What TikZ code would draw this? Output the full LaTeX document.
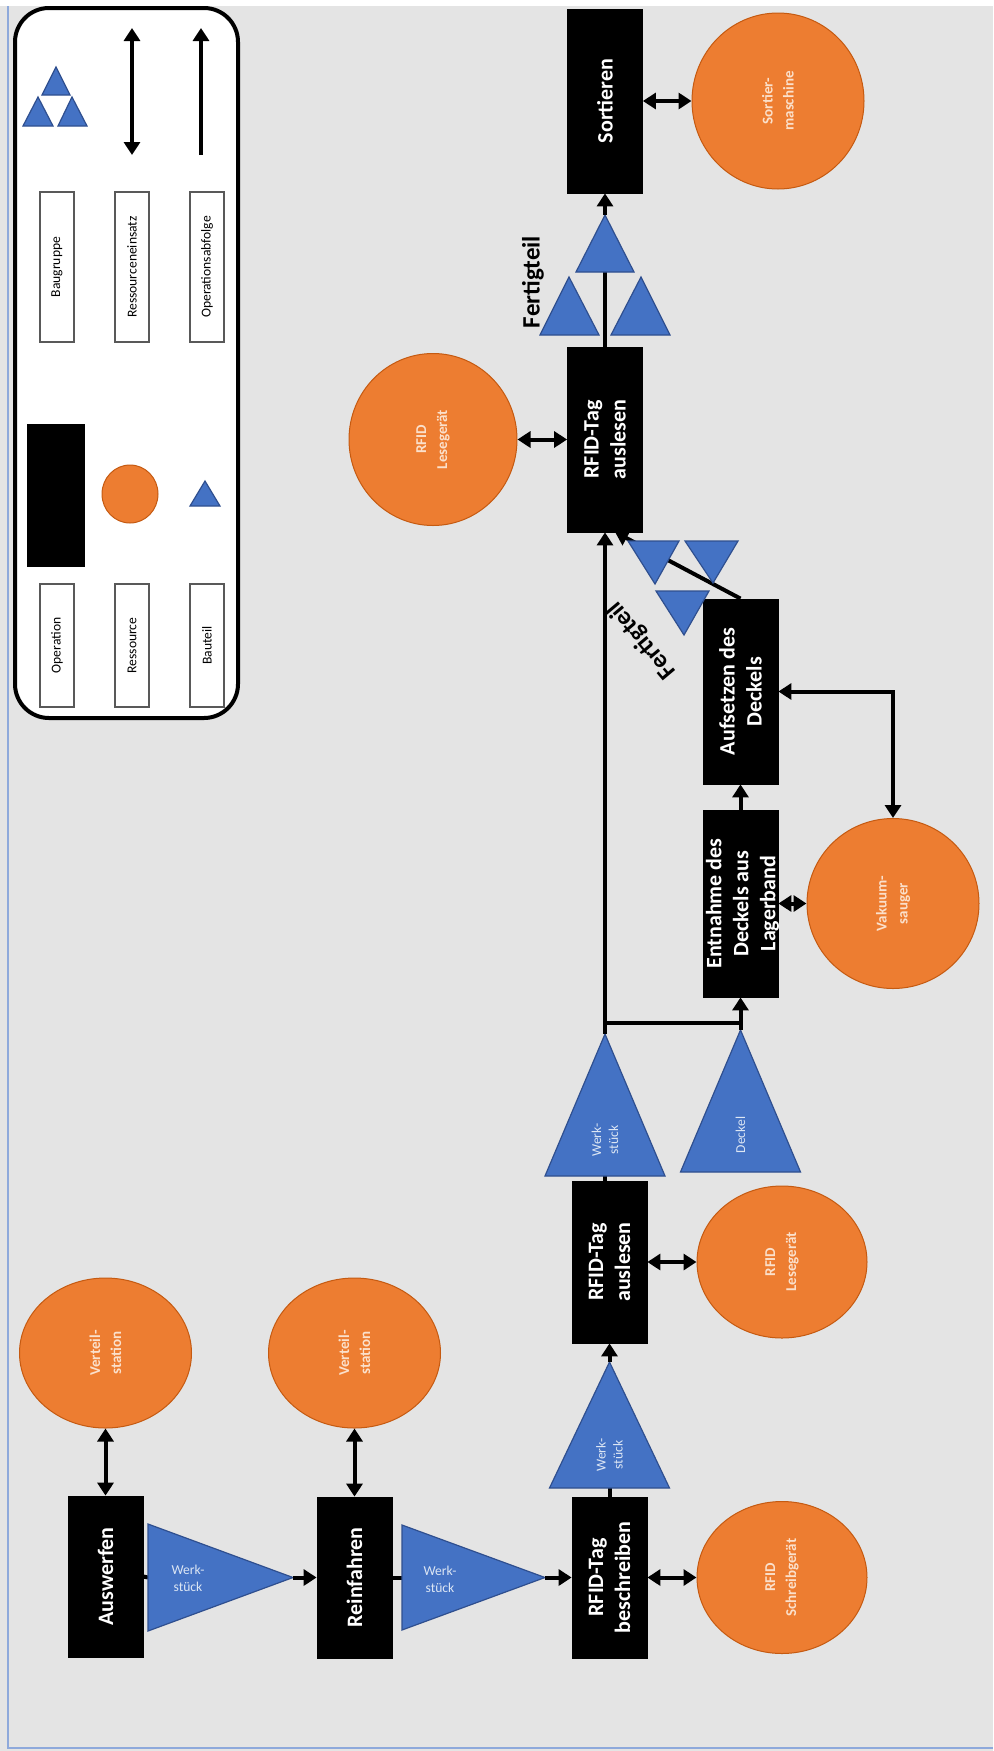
\documentclass[tikz,border=0pt]{standalone}
\usepackage{fontspec}
\setmainfont{Carlito}
\usetikzlibrary{arrows.meta,shapes.geometric}
\definecolor{bg}{HTML}{E4E4E4}
\definecolor{resfill}{HTML}{ED7D31}
\definecolor{resline}{HTML}{C55A11}
\definecolor{partfill}{HTML}{4472C4}
\definecolor{partline}{HTML}{2F4F8F}
\definecolor{restxt}{HTML}{FBE0CB}
\definecolor{parttxt}{HTML}{DCE6F4}
\definecolor{framecol}{HTML}{8EA9DB}

\begin{document}
\begin{tikzpicture}[x=0.5pt,y=-0.5pt,
  op/.style={draw=black, fill=black, minimum width=37.5pt, inner sep=0},
  optext/.style={rotate=90, text=white, font=\bfseries\fontsize{11}{13.5}\selectfont, align=center},
  res/.style={ellipse, draw=resline, line width=0.5pt, fill=resfill, inner sep=0},
  restext/.style={rotate=90, text=restxt, font=\bfseries\fontsize{7.5}{10.5}\selectfont, align=center},
  part/.style={draw=partline, line width=0.6pt, fill=partfill},
  parttext/.style={text=parttxt, font=\fontsize{6.8}{8.5}\selectfont, align=center},
  flowarr/.style={line width=2pt, -{Triangle[length=6.5pt,width=8pt]}},
  stub/.style={line width=2pt},
  resarr/.style={line width=2pt, {Triangle[length=6.5pt,width=8pt]}-{Triangle[length=6.5pt,width=8pt]}},
  legbox/.style={draw=black!65, line width=0.6pt, fill=white, inner sep=0, minimum width=17pt},
  legtext/.style={rotate=90, font=\fontsize{6.8}{8}\selectfont},
  bold label/.style={font=\bfseries\fontsize{12.5}{14}\selectfont, text=black},
]
\useasboundingbox (0,0) rectangle (993,1751);

% canvas
\fill[bg] (0,0) rectangle (993,1751);
\fill[white] (0,0) rectangle (993,6);
\draw[framecol, line width=1.2pt] (8,6) -- (8,1748) -- (993,1748);

% ---------------- legend ----------------
\draw[black, line width=2pt, fill=white, rounded corners=17pt] (15,8) rectangle (238,718);

\node[legbox, minimum height=61.5pt] (lg-op) at (57,645.5) {};
\node[legtext] (lg-op-t) at (lg-op) {Operation};
\node[legbox, minimum height=61.5pt] (lg-res) at (132,645.5) {};
\node[legtext] (lg-res-t) at (lg-res) {Ressource};
\node[legbox, minimum height=61.5pt] (lg-part) at (207,645.5) {};
\node[legtext] (lg-part-t) at (lg-part) {Bauteil};

\node[fill=black, minimum width=29pt, minimum height=71.5pt, inner sep=0] (lg-opsym) at (56,495.5) {};
\node[res, minimum width=28pt, minimum height=29pt] (lg-ressym) at (130,494) {};
\draw[part] (205,481) -- (220,506) -- (190,506) -- cycle;

\node[legbox, minimum height=75pt] (lg-asm) at (57,267) {};
\node[legtext] (lg-asm-t) at (lg-asm) {Baugruppe};
\node[legbox, minimum height=75pt] (lg-use) at (132,267) {};
\node[legtext] (lg-use-t) at (lg-use) {Ressourceneinsatz};
\node[legbox, minimum height=75pt] (lg-seq) at (207,267) {};
\node[legtext] (lg-seq-t) at (lg-seq) {Operationsabfolge};

\draw[part] (56,67) -- (70,95) -- (42,95) -- cycle;
\draw[part] (38,97) -- (53,126) -- (23,126) -- cycle;
\draw[part] (72,97) -- (87,126) -- (58,126) -- cycle;

\coordinate (lg-a1) at (132,155);
\coordinate (lg-a2) at (132,28);
\draw[resarr] (lg-a1) -- (lg-a2);
\coordinate (lg-b1) at (201,155);
\coordinate (lg-b2) at (201,28);
\draw[flowarr] (lg-b1) -- (lg-b2);

% ---------------- operations ----------------
\node[op, minimum height=80.5pt] (aus) at (105.5,1576.5) {};
\node[optext] (aus-t) at (aus) {Auswerfen};
\node[op, minimum height=80.5pt] (rein) at (354.5,1577.5) {};
\node[optext] (rein-t) at (rein) {Reinfahren};
\node[op, minimum height=80.5pt] (besch) at (609.5,1577.5) {};
\node[optext] (besch-t) at (besch) {RFID-Tag\\beschreiben};
\node[op, minimum height=81pt] (les1) at (609.5,1262) {};
\node[optext] (les1-t) at (les1) {RFID-Tag\\auslesen};
\node[op, minimum height=92.5pt] (les2) at (605,439.5) {};
\node[optext] (les2-t) at (les2) {RFID-Tag\\auslesen};
\node[op, minimum height=92pt] (sort) at (605,101) {};
\node[optext] (sort-t) at (sort) {Sortieren};
\node[op, minimum height=93.5pt] (entn) at (740.5,903.5) {};
\node[optext] (entn-t) at ([xshift=1pt]entn.center) {Entnahme des\\Deckels aus\\Lagerband};
\node[op, minimum height=92.5pt] (aufs) at (740.5,691.5) {};
\node[optext] (aufs-t) at (aufs) {Aufsetzen des\\Deckels};

% ---------------- resources ----------------
\node[res, minimum width=86pt, minimum height=75pt] (vs1) at (105.5,1353) {};
\node[restext] (vs1-t) at (vs1) {Verteil-\\station};
\node[res, minimum width=86pt, minimum height=75pt] (vs2) at (354.5,1353) {};
\node[restext] (vs2-t) at (vs2) {Verteil-\\station};
\node[res, minimum width=85pt, minimum height=76pt] (schreib) at (782,1577.5) {};
\node[restext] (schreib-t) at (schreib) {RFID\\Schreibgerät};
\node[res, minimum width=85pt, minimum height=76pt] (lese1) at (782,1262) {};
\node[restext] (lese1-t) at (lese1) {RFID\\Lesegerät};
\node[res, minimum width=84pt, minimum height=86pt] (lese2) at (433,439.5) {};
\node[restext] (lese2-t) at (lese2) {RFID\\Lesegerät};
\node[res, minimum width=86pt, minimum height=85pt] (vak) at (893,903.5) {};
\node[restext] (vak-t) at (vak) {Vakuum-\\sauger};
\node[res, minimum width=86pt, minimum height=88pt] (sortm) at (778,101) {};
\node[restext] (sortm-t) at (sortm) {Sortier-\\maschine};

\draw[resarr] (vs1.south) -- (aus.north);
\draw[resarr] (vs2.south) -- (rein.north);
\draw[resarr] (besch.east) -- (schreib.west);
\draw[resarr] (les1.east) -- (lese1.west);
\draw[resarr] (les2.west) -- (lese2.east);
\draw[resarr] (sort.east) -- (sortm.west);
\draw[resarr] (entn.east) -- (vak.west);
\draw[resarr] (vak.north) |- (aufs.east);

% ---------------- parts and sequence ----------------
% Auswerfen -> Reinfahren
\coordinate (t1base) at (148,1577.5);
\coordinate (t1tip) at (293,1577.5);
\draw[stub] (aus.east) -- (t1base);
\draw[part] (148,1524) -- (t1tip) -- (148,1631) -- cycle;
\node[parttext] (t1-t) at (188,1578) {Werk-\\stück};
\draw[flowarr] (t1tip) -- (rein.west);

% Reinfahren -> RFID-Tag beschreiben
\coordinate (t2base) at (402,1577.5);
\coordinate (t2tip) at (545,1577.5);
\draw[stub] (rein.east) -- (t2base);
\draw[part] (402,1525) -- (t2tip) -- (402,1630) -- cycle;
\node[parttext] (t2-t) at (440,1579) {Werk-\\stück};
\draw[flowarr] (t2tip) -- (besch.west);

% RFID-Tag beschreiben -> RFID-Tag auslesen
\coordinate (t3base) at (609.5,1488);
\coordinate (t3tip) at (609.5,1362);
\draw[stub] (besch.north) -- (t3base);
\draw[part] (549.5,1488) -- (t3tip) -- (669.5,1488) -- cycle;
\node[parttext, rotate=90] (t3-t) at (609.5,1455) {Werk-\\stück};
\draw[flowarr] (t3tip) -- (les1.south);

% RFID-Tag auslesen -> second reading, with the lid branch
\coordinate (t4base) at (605,1176);
\coordinate (t4tip) at (605,1034);
\draw[stub] (t4base |- les1.north) -- (t4base);
\draw[part] (545,1176) -- (t4tip) -- (665,1176) -- cycle;
\node[parttext, rotate=90] (t4-t) at (605,1140) {Werk-\\stück};

\coordinate (t5tip) at (740.5,1030);
\draw[part] (680.5,1172) -- (t5tip) -- (800.5,1172) -- cycle;
\node[parttext, rotate=90] (t5-t) at (740.5,1135) {Deckel};

\coordinate (j1) at (605,1023);
\coordinate (j2) at (740.5,1023);
\draw[flowarr] (t4tip) -- (les2.south);
\draw[stub] (j1) -- (j2);
\draw[flowarr] (t5tip) -- (entn.south);
\draw[flowarr] (entn.north) -- (aufs.south);

% finished part back to the reader
\coordinate (d1) at (615,532);
\draw[flowarr] (aufs.north) -- (d1);
\draw[part] (628,541) -- (679,541) -- (655,584) -- cycle;
\draw[part] (685,541) -- (738,541) -- (713,583) -- cycle;
\draw[part] (656,591) -- (709,591) -- (684,635) -- cycle;
\node[bold label, rotate=130] (fert1) at (642,640) {Fertigteil};

% assembly -> Sortieren
\coordinate (abase) at (605,272);
\coordinate (atip) at (605,215);
\draw[stub] (les2.north) -- (abase);
\draw[part] (576,272) -- (atip) -- (634,272) -- cycle;
\draw[part] (540,335) -- (569,277) -- (599,335) -- cycle;
\draw[part] (611,335) -- (641,277) -- (670,335) -- cycle;
\draw[flowarr] (atip) -- (sort.south);
\node[bold label, rotate=90] (fert2) at (533,282) {Fertigteil};

\end{tikzpicture}
\end{document}
